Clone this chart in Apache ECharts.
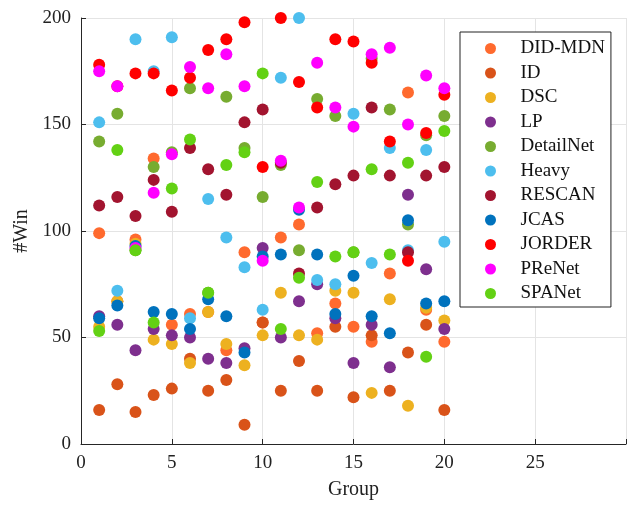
<!DOCTYPE html>
<html>
<head>
    <meta charset="utf-8">
    <title>Win scatter</title>
    <style>
        html, body { margin: 0; padding: 0; background: #fff; }
    </style>
</head>
<body>
    <div id="main" style="width: 634px; height: 505px;"></div>
    <script src="https://cdn.jsdelivr.net/npm/echarts@6/dist/echarts.min.js"></script>
    <script type="text/javascript">
        // group index 1..20
        var groups = [1, 2, 3, 4, 5, 6, 7, 8, 9, 10, 11, 12, 13, 14, 15, 16, 17, 18, 19, 20];

        var methods = ['DID-MDN', 'ID', 'DSC', 'LP', 'DetailNet', 'Heavy', 'RESCAN', 'JCAS', 'JORDER', 'PReNet', 'SPANet'];
        var colors = ['#FF6A2E', '#D95319', '#EDB120', '#7E2F8E', '#77AC30', '#4DBEEE', '#A2142F', '#0072BD', '#FF0000', '#FF00FF', '#63D114'];

        var didmdn    = [99, 67, 96, 134, 56, 61, 62, 44, 90, 57, 97, 103, 52, 66, 55, 48, 80, 165, 63, 48];
        var idv       = [16, 28, 15, 23, 26, 40, 25, 30, 9, 57, 25, 39, 25, 55, 22, 51, 25, 43, 56, 16];
        var dsc       = [55, 67, 94, 49, 47, 38, 62, 47, 37, 51, 71, 51, 49, 72, 71, 24, 68, 18, 64, 58];
        var lp        = [60, 56, 44, 54, 51, 50, 40, 38, 45, 92, 50, 67, 75, 59, 38, 56, 36, 117, 82, 54];
        var detailnet = [142, 155, 91, 130, 137, 167, 71, 163, 139, 116, 131, 91, 162, 154, 90, 181, 157, 103, 145, 154];
        var heavy     = [151, 72, 190, 175, 191, 59, 115, 97, 83, 63, 172, 200, 77, 75, 155, 85, 139, 91, 138, 95];
        var rescan    = [112, 116, 107, 124, 109, 139, 129, 117, 151, 157, 132, 80, 111, 122, 126, 158, 126, 90, 126, 130];
        var jcas      = [59, 65, 93, 62, 61, 54, 68, 60, 43, 88, 89, 110, 89, 61, 79, 60, 52, 105, 66, 67];
        var jorder    = [178, 168, 174, 174, 166, 172, 185, 190, 198, 130, 200, 170, 158, 190, 189, 179, 142, 86, 146, 164];
        var prenet    = [175, 168, 92, 118, 136, 177, 167, 183, 168, 86, 133, 111, 179, 158, 149, 183, 186, 150, 173, 167];
        var spanet    = [53, 138, 91, 57, 120, 143, 71, 131, 137, 174, 54, 78, 123, 88, 90, 129, 89, 132, 41, 147];

        var values = [didmdn, idv, dsc, lp, detailnet, heavy, rescan, jcas, jorder, prenet, spanet];

        var font = 'Liberation Serif, Times New Roman, serif';

        var chart = echarts.init(document.getElementById('main'));

        var option = {
            animation: false,
            color: colors,
            grid: { left: 81, right: 8, top: 18, bottom: 61, containLabel: false },
            legend: {
                orient: 'vertical',
                left: 460,
                top: 32,
                data: methods,
                icon: 'circle',
                itemWidth: 44,
                itemHeight: 11,
                itemGap: 5.5,
                padding: [7, 6, 4, 25],
                backgroundColor: '#fff',
                borderColor: '#222',
                borderWidth: 1,
                borderRadius: 0,
                textStyle: { fontFamily: font, fontSize: 19, color: '#111', lineHeight: 19, padding: [0, 0, 0, 3] }
            },
            xAxis: {
                type: 'value',
                min: 0,
                max: 30,
                interval: 5,
                name: 'Group',
                nameLocation: 'middle',
                nameGap: 36,
                nameTextStyle: { fontFamily: font, fontSize: 20, color: '#222' },
                axisLine: { show: true, lineStyle: { color: '#262626', width: 1 } },
                axisTick: { show: true, inside: true, length: 5, lineStyle: { color: '#262626' } },
                axisLabel: {
                    fontFamily: font, fontSize: 19, color: '#222', margin: 10,
                    formatter: function (v) { return v === 30 ? '' : v; }
                },
                splitLine: { show: true, lineStyle: { color: '#e4e4e4', width: 1 } }
            },
            yAxis: {
                type: 'value',
                min: 0,
                max: 200,
                interval: 50,
                name: '#Win',
                nameLocation: 'middle',
                nameRotate: 90,
                nameGap: 46,
                nameTextStyle: { fontFamily: font, fontSize: 20, color: '#222' },
                axisLine: { show: true, lineStyle: { color: '#262626', width: 1 } },
                axisTick: { show: true, inside: true, length: 5, lineStyle: { color: '#262626' } },
                axisLabel: { fontFamily: font, fontSize: 19, color: '#222', margin: 10 },
                splitLine: { show: true, lineStyle: { color: '#e4e4e4', width: 1 } }
            },
            series: methods.map(function (name, i) {
                return {
                    name: name,
                    type: 'scatter',
                    symbol: 'circle',
                    symbolSize: 12,
                    itemStyle: { color: colors[i], opacity: 1 },
                    data: groups.map(function (g, j) { return [g, values[i][j]]; })
                };
            })
        };

        chart.setOption(option);
    </script>
</body>
</html>
